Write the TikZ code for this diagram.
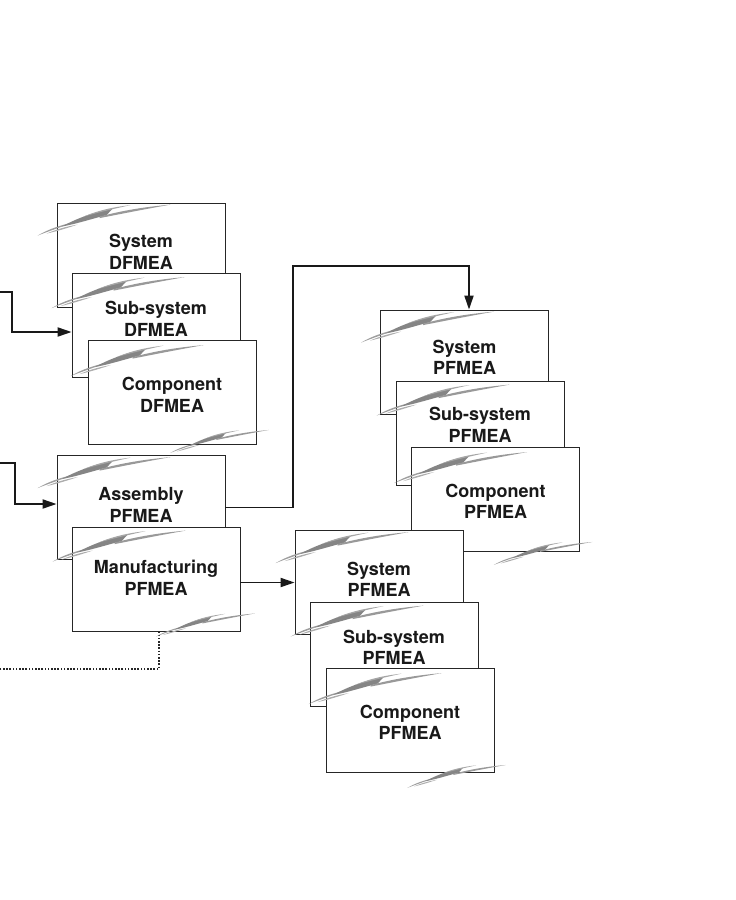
\documentclass[tikz,border=0pt]{standalone}
\usepackage{fontspec}
\setmainfont{TeX Gyre Heros}
\usetikzlibrary{arrows.meta,calc}
\tikzset{
  box/.style={draw=black!85, line width=0.8pt, fill=white, minimum width=168pt, minimum height=104pt, inner sep=0pt},
  lbl/.style={align=center, font=\bfseries\fontsize{18}{21.5}\selectfont, inner sep=0pt, text=black!90},
  conn/.style={line width=1.8pt, draw=black!90, -{Triangle[length=14pt,width=9pt]}},
  dotline/.style={line width=1.6pt, draw=black!85, dash pattern=on 1.6pt off 1.6pt},
  swoosh/.pic={
    % thin tails
    \fill[black!38] (0,0) .. controls (12,-7) and (22,-10) .. (38,-14) .. controls (22,-8) and (10,-4) .. (0,0);
    \fill[black!32] (9,-2) .. controls (18,-6) and (28,-9) .. (40,-11) .. controls (28,-7) and (18,-4) .. (9,-2);
    % thick band with kink
    \fill[black!48] (24,-9) .. controls (40,-17.5) and (56,-23.5) .. (75,-27) -- (69,-20.5) .. controls (55,-17) and (40,-12) .. (24,-9);
    % long thin right stroke
    \fill[black!40] (62,-19) .. controls (85,-25) and (105,-28.5) .. (133,-31) .. controls (105,-26) and (85,-22) .. (62,-17.5);
    % upper thin stroke
    \fill[black!35] (46,-19) .. controls (60,-25) and (75,-28.5) .. (93,-30.5) .. controls (75,-26.5) and (60,-23) .. (46,-19);
  }
}
\begin{document}
\begin{tikzpicture}[x=1pt,y=-1pt]
\useasboundingbox (0,0) rectangle (736,900);

% ---- DFMEA group
\node[box] (sd) at (141,255) {};
\node[lbl] (sdt) at (141,252) {System\\DFMEA};
\pic at ($(sd.north west)+(-19,33)$) {swoosh};
\node[box] (ssd) at (156,325.5) {};
\node[lbl] (ssdt) at (156,319) {Sub-system\\DFMEA};
\pic at ($(ssd.north west)+(-20,35)$) {swoosh};
\node[box] (cd) at (172,392.5) {};
\node[lbl] (cdt) at (172,395) {Component\\DFMEA};
\pic at ($(cd.north west)+(-17,36)$) {swoosh};
\pic[scale=0.74] at ($(cd.south east)+(-86,8)$) {swoosh};

% ---- Assembly / Manufacturing
\node[box] (asm) at (141,507.5) {};
\node[lbl] (asmt) at (141,505) {Assembly\\PFMEA};
\pic at ($(asm.north west)+(-19,33)$) {swoosh};
\node[box] (mfg) at (156,579) {};
\node[lbl] (mfgt) at (156,578) {Manufacturing\\PFMEA};
\pic at ($(mfg.north west)+(-19,35)$) {swoosh};

% ---- upper PFMEA group
\node[box] (sp1) at (464.5,362) {};
\node[lbl] (sp1t) at (464.5,357.5) {System\\PFMEA};
\pic at ($(sp1.north west)+(-19,33)$) {swoosh};
\node[box] (ssp1) at (480,433) {};
\node[lbl] (ssp1t) at (480,425) {Sub-system\\PFMEA};
\pic at ($(ssp1.north west)+(-19,35)$) {swoosh};
\node[box] (cp1) at (495.5,499.5) {};
\node[lbl] (cp1t) at (495.5,501.5) {Component\\PFMEA};
\pic at ($(cp1.north west)+(-17,36)$) {swoosh};
\pic[scale=0.74] at ($(cp1.south east)+(-86,13)$) {swoosh};

% ---- lower PFMEA group
\node[box] (sp2) at (379,582.5) {};
\node[lbl] (sp2t) at (379,579.5) {System\\PFMEA};
\pic at ($(sp2.north west)+(-19,33)$) {swoosh};
\node[box] (ssp2) at (394,654) {};
\node[lbl] (ssp2t) at (394,647.5) {Sub-system\\PFMEA};
\pic at ($(ssp2.north west)+(-19,35)$) {swoosh};
\node[box] (cp2) at (410,720.5) {};
\node[lbl] (cp2t) at (410,722.5) {Component\\PFMEA};
\pic at ($(cp2.north west)+(-17,36)$) {swoosh};

% ---- connectors
\coordinate (in1) at (0,292);
\coordinate (k1) at (12,292);
\coordinate (in2) at (0,463);
\coordinate (k2) at (15,463);
\coordinate (c3) at (293,266);
\coordinate (out1) at (0,669);

\draw[conn] (in1) -- (k1) |- ([yshift=-6.5pt]ssd.west);
\draw[conn] (in2) -- (k2) |- ([yshift=3.5pt]asm.west);
\draw[conn] (asm.east) -| (c3) -| ([xshift=4.5pt]sp1.north);
\draw[conn] (mfg.east |- sp2.west) -- (sp2.west);
\draw[dotline] ([xshift=3pt]mfg.south) |- (out1);
\pic[scale=0.74] at ($(mfg.south east)+(-84,5)$) {swoosh};
\pic[scale=0.74] at ($(cp2.south east)+(-87,15)$) {swoosh};
\end{tikzpicture}
\end{document}
